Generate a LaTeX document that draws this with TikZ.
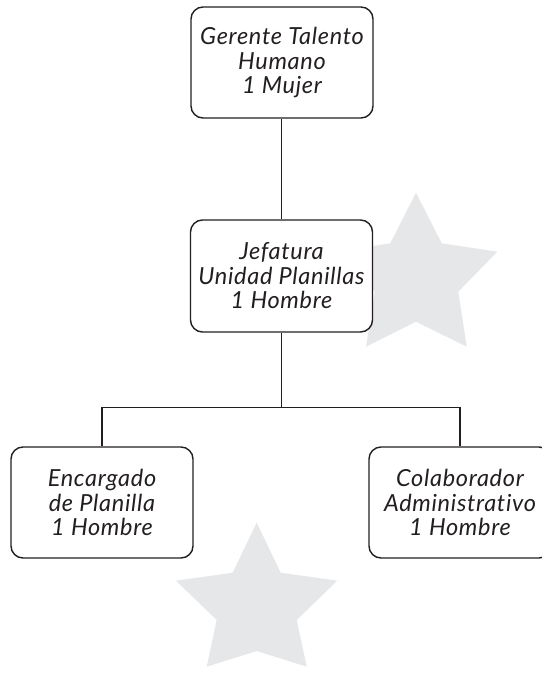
\documentclass[tikz,border=0pt]{standalone}
\usepackage{fontspec}
\newfontfamily\lf{Lato Italic}[LetterSpace=3,Ligatures={NoCommon}]
\definecolor{inkc}{HTML}{231F20}
\definecolor{starc}{HTML}{E6E7E8}
\begin{document}
\begin{tikzpicture}[x=1pt,y=-1pt,
  box/.style={draw=inkc,line width=1.4pt,rounded corners=12pt,fill=white,
    minimum width=182pt,minimum height=111pt,align=center,inner sep=0pt,
    text=inkc,font=\lf\fontsize{23.5}{24.5}\selectfont},
  link/.style={draw=inkc,line width=1.1pt}]
\useasboundingbox[fill=white] (0,0) rectangle (541,677);
% stars
\fill[starc] (416,192.7) -- (441.7,243.3) -- (497.3,251.7) -- (458.3,291.7) -- (466.7,346.7)
  -- (416,321.7) -- (366,346.7) -- (374.7,291.7) -- (334.7,251.7) -- (390.3,243.3) -- cycle;
\fill[starc] (256.7,522.7) -- (280.7,572.7) -- (337.3,580.7) -- (296.7,620) -- (306.7,666.7)
  -- (256.7,651) -- (206.7,666.7) -- (216.7,620) -- (176,580.7) -- (232.7,572.7) -- cycle;
% boxes
\node[box] (g) at (282,62.5) {Gerente Talento\\Humano\\1 Mujer};
\node[box,minimum height=112pt] (j) at (281.5,276) {Jefatura\\Unidad Planillas\\1 Hombre};
\node[box] (e) at (102,502.5) {Encargado\\de Planilla\\1 Hombre};
\node[box] (c) at (460,502.5) {Colaborador\\Administrativo\\1 Hombre};
\coordinate (h) at (281.5,407.5);
\draw[link] (g.south -| h) -- (j.north -| h);
\draw[link] (j.south -| h) -- (h);
\draw[link] (e.north) -- (e.north |- h) -- (c.north |- h) -- (c.north);
\end{tikzpicture}
\end{document}
